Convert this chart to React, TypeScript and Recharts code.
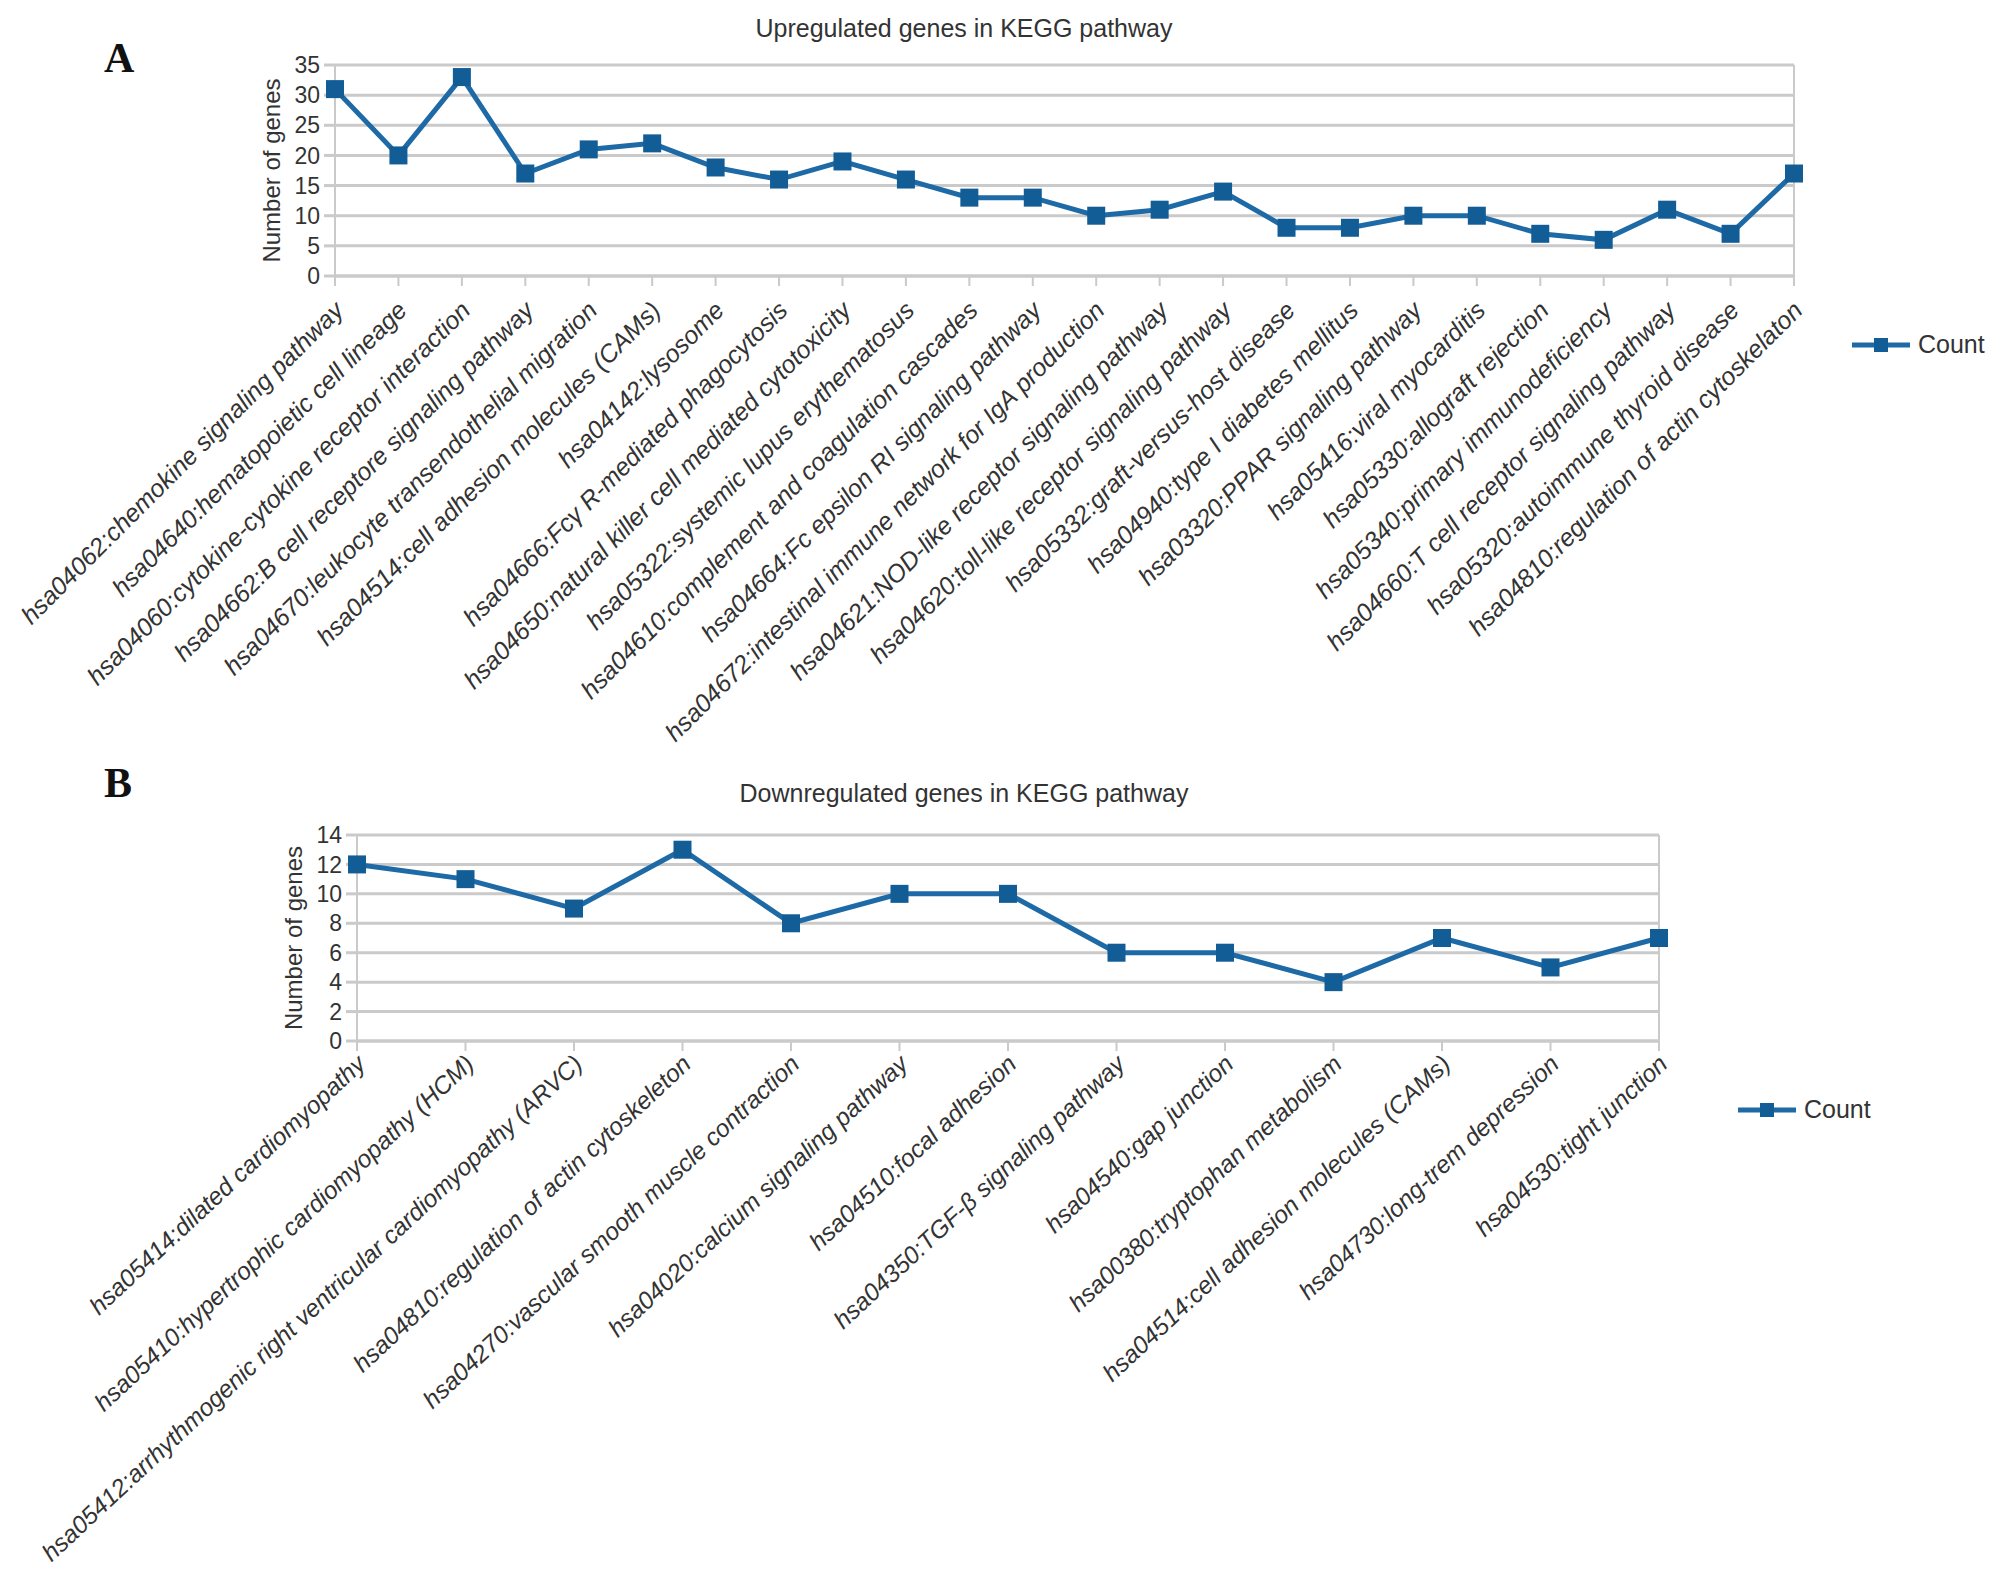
import React from 'react';
import {
  LineChart,
  Line,
  XAxis,
  YAxis,
  CartesianGrid,
  Legend,
  ReferenceLine,
} from 'recharts';

// upregulated pathways (panel A)
const UP_LABELS = [
  'hsa04062:chemokine signaling pathway',
  'hsa04640:hematopoietic cell lineage',
  'hsa04060:cytokine-cytokine receptor interaction',
  'hsa04662:B cell receptore signaling pathway',
  'hsa04670:leukocyte transendothelial migration',
  'hsa04514:cell adhesion molecules (CAMs)',
  'hsa04142:lysosome',
  'hsa04666:Fc\u03b3 R-mediated phagocytosis',
  'hsa04650:natural killer cell mediated cytotoxicity',
  'hsa05322:systemic lupus erythematosus',
  'hsa04610:complement and coagulation cascades',
  'hsa04664:Fc epsilon RI signaling pathway',
  'hsa04672:intestinal immune network for IgA production',
  'hsa04621:NOD-like receptor signaling pathway',
  'hsa04620:toll-like receptor signaling pathway',
  'hsa05332:graft-versus-host disease',
  'hsa04940:type I diabetes mellitus',
  'hsa03320:PPAR signaling pathway',
  'hsa05416:viral myocarditis',
  'hsa05330:allograft rejection',
  'hsa05340:primary immunodeficiency',
  'hsa04660:T cell receptor signaling pathway',
  'hsa05320:autoimmune thyroid disease',
  'hsa04810:regulation of actin cytoskelaton',
];
const UP_COUNTS = [31, 20, 33, 17, 21, 22, 18, 16, 19, 16, 13, 13, 10, 11, 14, 8, 8, 10, 10, 7, 6, 11, 7, 17];
const UP_TICKS = [0, 5, 10, 15, 20, 25, 30, 35];

// downregulated pathways (panel B)
const DOWN_LABELS = [
  'hsa05414:dilated cardiomyopathy',
  'hsa05410:hypertrophic cardiomyopathy (HCM)',
  'hsa05412:arrhythmogenic right ventricular cardiomyopathy (ARVC)',
  'hsa04810:regulation of actin cytoskeleton',
  'hsa04270:vascular smooth muscle contraction',
  'hsa04020:calcium signaling pathway',
  'hsa04510:focal adhesion',
  'hsa04350:TGF-\u03b2 signaling pathway',
  'hsa04540:gap junction',
  'hsa00380:tryptophan metabolism',
  'hsa04514:cell adhesion molecules (CAMs)',
  'hsa04730:long-trem depression',
  'hsa04530:tight junction',
];
const DOWN_COUNTS = [12, 11, 9, 13, 8, 10, 10, 6, 6, 4, 7, 5, 7];
const DOWN_TICKS = [0, 2, 4, 6, 8, 10, 12, 14];

const LINE_COLOR = '#1e6aa6';
const MARK_COLOR = '#135d97';
const GRID_COLOR = '#cacaca';
const SANS = "'Liberation Sans', Arial, sans-serif";

const SquareDot = (props: any) => {
  const { cx, cy, index } = props;
  if (cx == null || cy == null) return null;
  return <rect key={`d-${index}`} x={cx - 9} y={cy - 9} width={18} height={18} fill={MARK_COLOR} />;
};

const SlantTick = (props: any) => {
  const { x, y, payload, angle, dx, dy, size } = props;
  const px = x + dx;
  const py = y + dy;
  return (
    <text
      x={px}
      y={py}
      transform={`rotate(${angle} ${px} ${py})`}
      textAnchor="end"
      fontSize={size}
      fontStyle="italic"
      fontFamily={SANS}
      fill="#333"
    >
      {payload.value}
    </text>
  );
};

const YLabel = (props: any) => {
  const { viewBox } = props;
  const cx = viewBox.x + viewBox.width - 64;
  const cy = viewBox.y + viewBox.height / 2;
  return (
    <text
      x={cx}
      y={cy}
      transform={`rotate(-90 ${cx} ${cy})`}
      textAnchor="middle"
      dominantBaseline="central"
      fontSize={24}
      fontFamily={SANS}
      fill="#333"
    >
      Number of genes
    </text>
  );
};

const CountLegend = () => (
  <div style={{ display: 'flex', alignItems: 'center', fontFamily: SANS }}>
    <svg width={58} height={20}>
      <line x1={0} y1={10} x2={58} y2={10} stroke={LINE_COLOR} strokeWidth={5} />
      <rect x={22} y={3} width={14} height={14} fill={MARK_COLOR} />
    </svg>
    <span style={{ fontSize: 25, color: '#333', marginLeft: 8 }}>Count</span>
  </div>
);

interface PanelProps {
  labels: string[];
  counts: number[];
  ticks: number[];
  width: number;
  height: number;
  axisWidth: number;
  right: number;
  xHeight: number;
  legendPos: { left: number; top: number };
  tickStyle: { angle: number; dx: number; dy: number; size: number };
}

function Panel({ labels, counts, ticks, width, height, axisWidth, right, xHeight, legendPos, tickStyle }: PanelProps) {
  const data = labels.map((name, i) => ({ name, count: counts[i] }));
  const top = ticks[ticks.length - 1];
  return (
    <LineChart width={width} height={height} data={data} margin={{ top: 65, right, bottom: 0, left: 0 }}>
      <CartesianGrid vertical={false} stroke={GRID_COLOR} strokeWidth={3} />
      <XAxis
        dataKey="name"
        interval={0}
        height={xHeight}
        tick={<SlantTick {...tickStyle} />}
        tickSize={10}
        axisLine={{ stroke: GRID_COLOR, strokeWidth: 3 }}
        tickLine={{ stroke: GRID_COLOR, strokeWidth: 2 }}
      />
      <YAxis
        width={axisWidth}
        domain={[0, top]}
        ticks={ticks}
        interval={0}
        tickSize={11}
        tickMargin={4}
        tick={{ fontSize: 23, fill: '#333', fontFamily: SANS }}
        axisLine={{ stroke: GRID_COLOR, strokeWidth: 2 }}
        tickLine={{ stroke: GRID_COLOR, strokeWidth: 3 }}
        label={<YLabel />}
      />
      <ReferenceLine x={labels[labels.length - 1]} stroke={GRID_COLOR} strokeWidth={2} />
      <Line
        type="linear"
        dataKey="count"
        name="Count"
        stroke={LINE_COLOR}
        strokeWidth={5}
        dot={<SquareDot />}
        activeDot={false}
        isAnimationActive={false}
      />
      <Legend
        layout="vertical"
        align="center"
        verticalAlign="middle"
        content={<CountLegend />}
        wrapperStyle={{ left: legendPos.left, top: legendPos.top, width: 'auto', height: 'auto' }}
      />
    </LineChart>
  );
}

export default function App() {
  return (
    <div style={{ position: 'relative', width: 1997, height: 1580, background: '#fff' }}>
      <style>{'body{margin:0}'}</style>
      <svg width={1997} height={1580} style={{ position: 'absolute', left: 0, top: 0, pointerEvents: 'none' }}>
        <text x={104} y={72} fontSize={42} fontWeight="bold" fontFamily="'Liberation Serif', 'Times New Roman', serif" fill="#111">
          A
        </text>
        <text x={964} y={37} fontSize={25} textAnchor="middle" fontFamily={SANS} fill="#333">
          Upregulated genes in KEGG pathway
        </text>
        <text x={104} y={797} fontSize={42} fontWeight="bold" fontFamily="'Liberation Serif', 'Times New Roman', serif" fill="#111">
          B
        </text>
        <text x={964} y={802} fontSize={25} textAnchor="middle" fontFamily={SANS} fill="#333">
          Downregulated genes in KEGG pathway
        </text>
      </svg>
      <div style={{ position: 'absolute', left: 0, top: 0 }}>
        <Panel
          labels={UP_LABELS}
          counts={UP_COUNTS}
          ticks={UP_TICKS}
          width={1997}
          height={770}
          axisWidth={335}
          right={203}
          xHeight={494}
          legendPos={{ left: 1852, top: 330 }}
          tickStyle={{ angle: -45, dx: 10, dy: 24, size: 25 }}
        />
      </div>
      <div style={{ position: 'absolute', left: 0, top: 770 }}>
        <Panel
          labels={DOWN_LABELS}
          counts={DOWN_COUNTS}
          ticks={DOWN_TICKS}
          width={1997}
          height={810}
          axisWidth={357}
          right={338}
          xHeight={539}
          legendPos={{ left: 1738, top: 325 }}
          tickStyle={{ angle: -43, dx: 10, dy: 13, size: 24.5 }}
        />
      </div>
    </div>
  );
}
